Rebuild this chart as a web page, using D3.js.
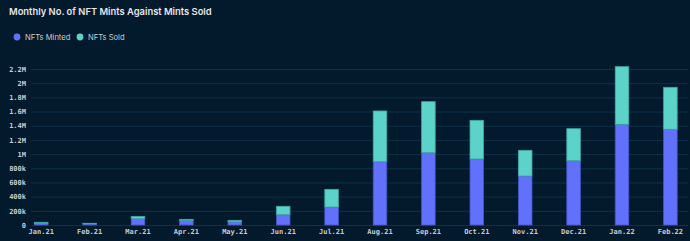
<!DOCTYPE html>
<html>
<head>
<script src="https://d3js.org/d3.v7.min.js"></script>
<style>
  body { margin: 0; background: #031a2c; }
  svg { display: block; }
</style>
</head>
<body>
<script>

// data
var months = ["Jan.21", "Feb.21", "Mar.21", "Apr.21", "May.21", "Jun.21", "Jul.21",
              "Aug.21", "Sep.21", "Oct.21", "Nov.21", "Dec.21", "Jan.22", "Feb.22"];
var minted = [24000, 16000, 90000, 66000, 44000, 146000, 254000,
              893000, 1020000, 931000, 691000, 907000, 1420000, 1350000];
var sold   = [14000, 8000, 32000, 14000, 22000, 118000, 249000,
              715000, 719000, 545000, 362000, 451000, 813000, 592000];
var yTicks = [0, 200000, 400000, 600000, 800000, 1000000, 1200000, 1400000,
              1600000, 1800000, 2000000, 2200000];
var yTickLabels = ["0", "200k", "400k", "600k", "800k", "1M", "1.2M", "1.4M",
                   "1.6M", "1.8M", "2M", "2.2M"];

var W = 690, H = 241;
var mintColor = "#6271fb", soldColor = "#5cd3c9";

var svg = d3.select("body").append("svg")
    .attr("width", W)
    .attr("height", H);

svg.append("rect").attr("width", W).attr("height", H).attr("fill", "#031a2c");

// title
svg.append("text")
    .attr("x", 9).attr("y", 15)
    .attr("fill", "#e3e6ea")
    .style("font-family", "Inter, 'Noto Sans', sans-serif")
    .style("font-size", "9.4px")
    .style("font-weight", 600)
    .text("Monthly No. of NFT Mints Against Mints Sold");

// legend
var legend = [{name: "NFTs Minted", color: mintColor, x: 17},
              {name: "NFTs Sold", color: soldColor, x: 80}];
var lg = svg.selectAll(".lg").data(legend).enter().append("g")
    .attr("transform", function(d) { return "translate(" + d.x + ",37)"; });
lg.append("circle").attr("r", 3.4).attr("fill", function(d) { return d.color; });
lg.append("text")
    .attr("x", 8).attr("y", 2.8)
    .attr("fill", "#c6ccd3")
    .style("font-family", "Inter, 'Noto Sans', sans-serif")
    .style("font-size", "7.6px")
    .text(function(d) { return d.name; });

// scales
var x = d3.scaleBand().domain(months).range([17, 694.6]).paddingInner(0.72).paddingOuter(0.36);
var y = d3.scaleLinear().domain([0, 2200000]).range([225, 69]);

// gridlines
svg.append("g").selectAll("line").data(yTicks).enter().append("line")
    .attr("x1", 31).attr("x2", 688)
    .attr("y1", function(d) { return y(d) + 0.5; })
    .attr("y2", function(d) { return y(d) + 0.5; })
    .attr("stroke", "#0e3147")
    .attr("stroke-width", 1);

// y axis labels
var yAxis = d3.axisLeft(y).tickValues(yTicks)
    .tickFormat(function(d, i) { return yTickLabels[i]; })
    .tickSize(0).tickPadding(0);
var ya = svg.append("g").attr("transform", "translate(26,0)").call(yAxis);
ya.select(".domain").remove();
ya.selectAll("text")
    .attr("fill", "#c6ccd3")
    .attr("dy", "0.32em")
    .style("font-family", "'DejaVu Sans Mono', monospace")
    .style("font-size", "7px")
    .style("font-weight", "bold");

// x axis labels
var xAxis = d3.axisBottom(x).tickSize(0).tickPadding(0);
var xa = svg.append("g").attr("transform", "translate(0,229)").call(xAxis);
xa.select(".domain").remove();
xa.selectAll("text")
    .attr("fill", "#c6ccd3")
    .attr("dy", "0.71em")
    .style("font-family", "'DejaVu Sans Mono', monospace")
    .style("font-size", "7px")
    .style("font-weight", "bold");

// stacked bars
var rows = months.map(function(m, i) { return {month: m, minted: minted[i], sold: sold[i]}; });
var stack = d3.stack().keys(["minted", "sold"])(rows);
var colors = {minted: mintColor, sold: soldColor};
var strokes = {minted: "#4656c9", sold: "#3fa8a5"};

svg.append("g").selectAll("g").data(stack).enter().append("g")
    .attr("fill", function(s) { return colors[s.key]; })
    .attr("stroke", function(s) { return strokes[s.key]; })
    .attr("stroke-width", 0.8)
  .selectAll("rect").data(function(s) { return s; }).enter().append("rect")
    .attr("x", function(d) { return x(d.data.month); })
    .attr("width", x.bandwidth())
    .attr("y", function(d) { return y(d[1]); })
    .attr("height", function(d) { return y(d[0]) - y(d[1]); });

</script>
</body>
</html>
